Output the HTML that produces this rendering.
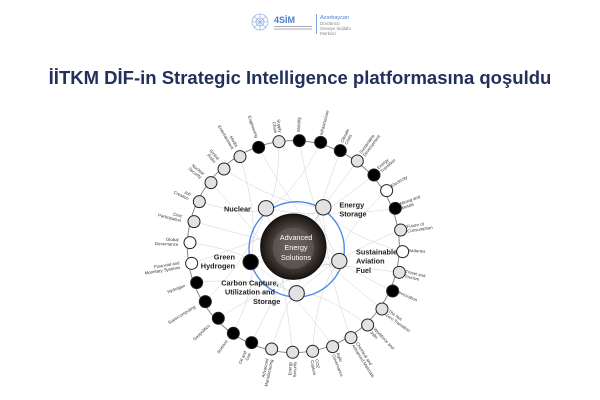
<!DOCTYPE html>
<html><head><meta charset="utf-8"><style>
html,body{margin:0;padding:0;background:#fff;width:600px;height:400px;overflow:hidden}
svg{display:block}
</style></head><body>
<svg id="s" width="600" height="400" viewBox="0 0 600 400" xmlns="http://www.w3.org/2000/svg" font-family="Liberation Sans, sans-serif">
<defs>
<radialGradient id="g" cx="50%" cy="50%" r="50%">
<stop offset="0" stop-color="#6a6460"/><stop offset="0.6" stop-color="#4a423c"/><stop offset="0.85" stop-color="#2c241f"/><stop offset="1" stop-color="#1a1512"/>
</radialGradient>
</defs>
<g stroke="#9db8e0" fill="none" stroke-width="0.8">
<circle cx="260" cy="22" r="8"/><circle cx="260" cy="22" r="4"/>
<path d="M252 22H268M260 14V30M254 16L266 28M266 16L254 28"/>
</g>
<text x="274" y="23" font-size="9" font-weight="bold" fill="#4a7fd0">4SİM</text>
<rect x="274" y="26" width="38" height="1" fill="#aab"/>
<rect x="274" y="28.5" width="38" height="1" fill="#aab"/>
<rect x="316" y="14" width="1" height="20" fill="#7ea6e0"/>
<text x="320" y="19" font-size="5.5" fill="#4a7fd0">Azərbaycan</text>
<text x="320" y="25" font-size="4.5" fill="#888">Dördüncü</text>
<text x="320" y="30" font-size="4.5" fill="#888">Sənaye İnqilabı</text>
<text x="320" y="35" font-size="4.5" fill="#888">Mərkəzi</text>
<text x="300" y="84" font-size="18.5" font-weight="bold" fill="#22305c" text-anchor="middle">İİTKM DİF-in Strategic Intelligence platformasına  qoşuldu</text>
<g transform="translate(150,100) scale(0.3333)">
<g id="lines" stroke="#c8c8c8" stroke-width="1.3" fill="none"></g>
<circle cx="430" cy="440" r="318" fill="none" stroke="#888" stroke-width="3"/>
<circle cx="440" cy="448" r="143" fill="none" stroke="#4a8ae8" stroke-width="4"/>
<circle cx="430" cy="440" r="98" fill="url(#g)" stroke="#111" stroke-width="3"/>
<circle cx="430" cy="445" r="62" fill="#6b6560" opacity="0.5"/>
<text fill="#fff" font-size="22" text-anchor="middle"><tspan x="438" y="420">Advanced</tspan><tspan x="438" y="450">Energy</tspan><tspan x="438" y="480">Solutions</tspan></text>
<g id="outer" stroke="#222" stroke-width="3"></g>
<g id="inner" stroke="#222" stroke-width="3"></g>
<g id="lab" fill="#333" font-size="13"></g>
<g font-size="22" font-weight="bold" fill="#222">
<text x="222" y="334">Nuclear</text>
<text x="568" y="322">Energy</text><text x="568" y="350">Storage</text>
<text x="618" y="463">Sustainable</text><text x="618" y="491">Aviation</text><text x="618" y="519">Fuel</text>
<text x="255" y="478" text-anchor="end">Green</text><text x="255" y="506" text-anchor="end">Hydrogen</text>
<text x="300" y="556" text-anchor="middle">Carbon Capture,</text><text x="300" y="584" text-anchor="middle">Utilization and</text><text x="350" y="612" text-anchor="middle">Storage</text>
</g>
</g>
</svg>
<script>
var NS="http://www.w3.org/2000/svg";
function el(p,t,a){var e=document.createElementNS(NS,t);for(var k in a)e.setAttribute(k,a[k]);p.appendChild(e);return e;}
var O=[[448,122,'b','Mobility'],[512,127,'b','Infrastructure'],[571,152,'b','Climate Crisis'],[622,183,'l','Sustainable Development'],[672,225,'b','Energy Transition'],[710,272,'w','Electricity'],[736,325,'b','Mining and Metals'],[752,390,'l','Future of Consumption'],[758,455,'w','Batteries'],[748,517,'l','Travel and Tourism'],[728,573,'b','Innovation'],[696,627,'l','The Net Zero Transition'],[653,675,'l','Workforce and Jobs'],[603,713,'l','Chemical and Advanced Materials'],[548,740,'l','Agile Governance'],[488,754,'l','CO2 Capture'],[428,757,'l','Energy Security'],[365,747,'l','Advanced Manufacturing'],[305,728,'b','Oil and Gas'],[250,700,'b','Science'],[205,655,'b','Geopolitics'],[166,605,'b','Supercomputing'],[140,548,'b','Hydrogen'],[125,490,'w','Financial and Monetary Systems'],[120,428,'w','Global Governance'],[132,365,'l','Civic Participation'],[148,305,'l','Job Creation'],[183,248,'l','Nuclear Security'],[222,207,'l','Global Risks'],[270,170,'l','Media Entertainment'],[326,142,'b','Engineering'],[387,125,'l','Supply Chain']];
var I=[[348,325,'l'],[520,322,'l'],[568,483,'l'],[440,580,'l'],[302,486,'b']];
var F={b:'#000',l:'#e2e2e2',w:'#fff'};
var L=document.getElementById('lines'),G=document.getElementById('outer'),N=document.getElementById('inner'),T=document.getElementById('lab');
O.forEach(function(o,i){
 var s=I[(i*3+2)%5];
 var mx=(s[0]+o[0])/2*0.7+430*0.3,my=(s[1]+o[1])/2*0.7+440*0.3;
 el(L,'path',{d:'M'+s[0]+' '+s[1]+'Q'+mx+' '+my+' '+o[0]+' '+o[1]});
 el(G,'circle',{cx:o[0],cy:o[1],r:18,fill:F[o[2]]});
 var dx=o[0]-430,dy=o[1]-440,ang=Math.atan2(dy,dx)*180/Math.PI,d=Math.hypot(dx,dy);
 var lx=430+dx/d*345,ly=440+dy/d*345,rot=ang,anc='start';
 if(dx<0){rot=ang+180;anc='end';}
 var t=el(T,'text',{x:lx,y:ly,'text-anchor':anc,transform:'rotate('+rot+' '+lx+' '+ly+')'});
 var w=o[3].split(' ');
 if(w.length>1){var h=Math.ceil(w.length/2);el(t,'tspan',{x:lx,dy:-3}).textContent=w.slice(0,h).join(' ');
 el(t,'tspan',{x:lx,dy:14}).textContent=w.slice(h).join(' ');} else t.textContent=o[3];
});
I.forEach(function(o){el(N,'circle',{cx:o[0],cy:o[1],r:23,fill:F[o[2]]});});
</script>
</body></html>
